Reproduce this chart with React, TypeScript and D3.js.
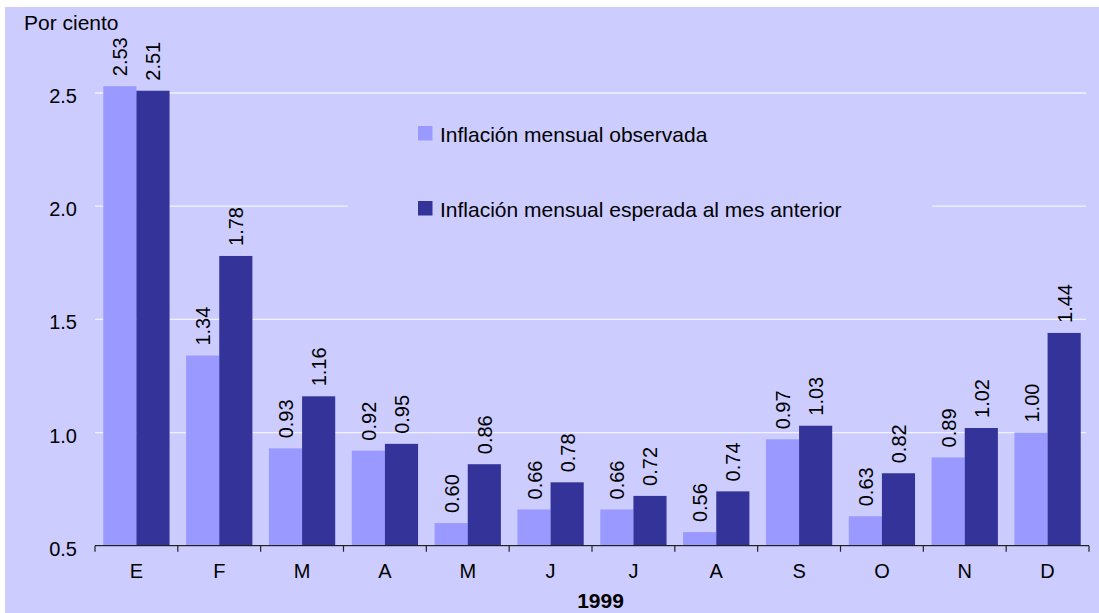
import React from "react";
import * as d3 from "d3";

const months = ["E", "F", "M", "A", "M", "J", "J", "A", "S", "O", "N", "D"];
const observed = [2.53, 1.34, 0.93, 0.92, 0.6, 0.66, 0.66, 0.56, 0.97, 0.63, 0.89, 1.0];
const expected = [2.51, 1.78, 1.16, 0.95, 0.86, 0.78, 0.72, 0.74, 1.03, 0.82, 1.02, 1.44];
const yTicks = [0.5, 1.0, 1.5, 2.0, 2.5];
const seriesNames = ["Inflación mensual observada", "Inflación mensual esperada al mes anterior"];
const xTitle = "1999";
const yTitle = "Por ciento";

const W = 1099;
const H = 613;
const FONT = "'Liberation Sans', Arial, sans-serif";
const BG = "#CCCCFF";
const LIGHT = "#9999FF";
const DARK = "#333399";

export default function App() {
  const x0 = 95;
  const x1 = 1089;
  const idx = months.map((_, i) => String(i));
  const x = d3.scaleBand<string>().domain(idx).range([x0, x1]).padding(0);
  const inner = d3
    .scaleBand<string>()
    .domain(["obs", "exp"])
    .range([0, x.bandwidth()])
    .paddingInner(0)
    .paddingOuter(0.25);
  const y = d3.scaleLinear().domain([0.5, 2.5]).range([545.7, 93]);
  const series = [
    { key: "obs", values: observed, color: LIGHT },
    { key: "exp", values: expected, color: DARK },
  ];
  const boundaries = d3.range(months.length + 1).map((i) => x0 + i * x.step());

  return (
    <svg
      width={W}
      height={H}
      style={{ position: "absolute", left: 0, top: 0, display: "block" }}
      fontFamily={FONT}
    >
      <rect x={0} y={0} width={W} height={H} fill="#ffffff" />
      <rect x={5} y={7} width={W - 5} height={H - 7} fill={BG} />

      {yTicks.map((t) => (
        <g key={t}>
          <line x1={x0} x2={x1 - 3} y1={y(t)} y2={y(t)} stroke="#F2F2FF" strokeWidth={1.3} />
          <text x={77} y={y(t) + 10} textAnchor="end" fontSize={20} fill="#000">
            {t.toFixed(1)}
          </text>
        </g>
      ))}

      {/* legend box (covers gridlines) */}
      <rect x={348} y={110} width={584} height={125} fill={BG} />
      {series.map((s, i) => (
        <g key={s.key}>
          <rect x={418} y={126 + i * 75} width={14.5} height={14.5} fill={s.color} />
          <text x={440} y={141.5 + i * 75} fontSize={21} fill="#000">
            {seriesNames[i]}
          </text>
        </g>
      ))}

      {series.map((s) =>
        s.values.map((v, i) => {
          const bx = (x(String(i)) as number) + (inner(s.key) as number);
          const bw = inner.bandwidth();
          const top = y(v);
          const cx = bx + bw / 2;
          const ly = top - 10;
          return (
            <g key={s.key + i}>
              <rect x={bx} y={top} width={bw} height={y(0.5) - top} fill={s.color} />
              <text
                transform={`translate(${cx + 7.5},${ly}) rotate(-90)`}
                textAnchor="start"
                fontSize={20}
                fill="#000"
              >
                {v.toFixed(2)}
              </text>
            </g>
          );
        })
      )}

      <line x1={x0} x2={x1} y1={y(0.5)} y2={y(0.5)} stroke="#222" strokeWidth={1.3} />
      {boundaries.map((b, i) => (
        <line key={i} x1={b} x2={b} y1={y(0.5)} y2={y(0.5) + 6} stroke="#222" strokeWidth={1.2} />
      ))}
      {months.map((m, i) => (
        <text
          key={i}
          x={(x(String(i)) as number) + x.bandwidth() / 2}
          y={578}
          textAnchor="middle"
          fontSize={20}
          fill="#000"
        >
          {m}
        </text>
      ))}

      <text x={600.5} y={607.5} textAnchor="middle" fontSize={21} fontWeight="bold" fill="#000">
        {xTitle}
      </text>
      <text x={24} y={30} fontSize={21} fill="#000">
        {yTitle}
      </text>
    </svg>
  );
}
